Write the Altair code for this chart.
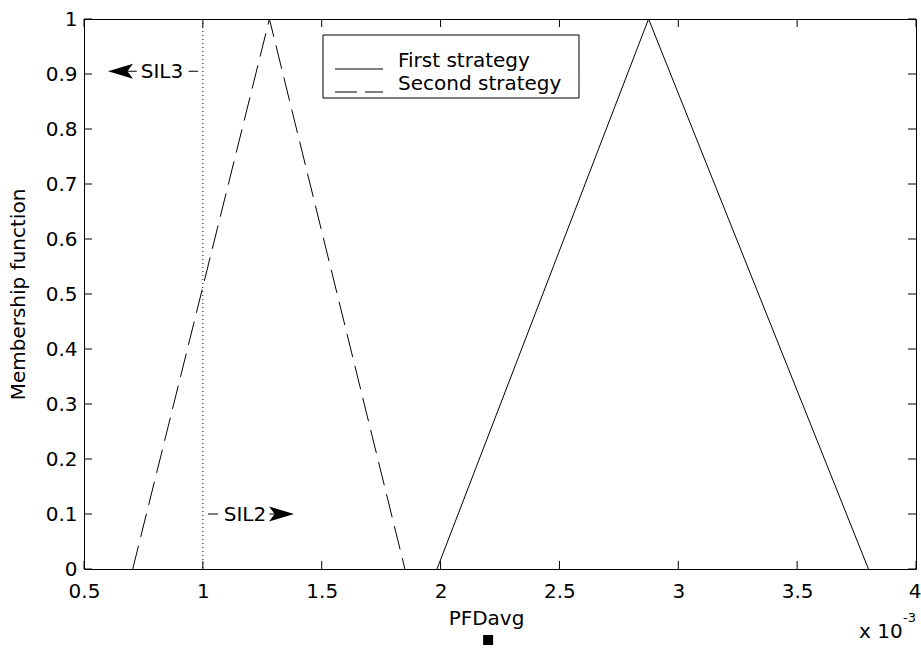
import altair as alt
import pandas as pd

# Triangular membership functions (PFDavg in units of 1e-3)
first_x = [1.985, 2.875, 3.80]
first_y = [0.0, 1.0, 0.0]
second_x = [0.705, 1.28, 1.85]
second_y = [0.0, 1.0, 0.0]

# SIL2/SIL3 boundary
sil_boundary = [1.0]

# Axis ticks
x_ticks = [0.5, 1.0, 1.5, 2.0, 2.5, 3.0, 3.5, 4.0]
y_ticks = [0.0, 0.1, 0.2, 0.3, 0.4, 0.5, 0.6, 0.7, 0.8, 0.9, 1.0]

# Annotations
sil_labels = ["SIL3", "SIL2"]
sil_label_x = [0.828, 1.177]
sil_label_y = [0.905, 0.1]
sil_dash_x = [0.94, 1.0217]
sil_dash_x2 = [0.98, 1.0637]
sil_stem_x = [0.66, 1.28]
sil_stem_x2 = [0.722, 1.33]
sil_arrow_x = [0.6536, 1.331]

pfd_marker_x = [2.2]

W, H = 832, 550
FONT = "DejaVu Sans"
FS = 20

xs = alt.Scale(domain=[0.5, 4], nice=False, zero=False)
ys = alt.Scale(domain=[0, 1], nice=False, zero=False)

first_df = pd.DataFrame({"x": first_x, "y": first_y})
second_df = pd.DataFrame({"x": second_x, "y": second_y})

xaxis = alt.Axis(values=x_ticks, format="~g", tickSize=0, domain=False, grid=False,
                 labelFont=FONT, labelFontSize=FS, labelColor="black",
                 labelPadding=12,
                 labelAlign={"condition": {"test": "datum.value >= 4", "value": "right"},
                             "value": "center"},
                 labelOffset={"condition": {"test": "datum.value >= 4", "value": 5},
                              "value": 0},
                 title="PFDavg", titleFont=FONT,
                 titleFontSize=FS, titleFontWeight="normal", titleColor="black",
                 titlePadding=7, titleX=402, labelFlush=False)
yaxis = alt.Axis(values=y_ticks, format="~g", tickSize=0, domain=False, grid=False,
                 labelFont=FONT, labelFontSize=FS, labelColor="black",
                 labelPadding=7, title="Membership function", titleFont=FONT,
                 titleFontSize=FS, titleFontWeight="normal", titleColor="black",
                 titlePadding=17, labelFlush=False)

first_line = alt.Chart(first_df).mark_line(color="black", strokeWidth=1).encode(
    x=alt.X("x:Q", scale=xs, axis=xaxis),
    y=alt.Y("y:Q", scale=ys, axis=yaxis),
)
second_line = alt.Chart(second_df).mark_line(
    color="black", strokeWidth=1, strokeDash=[24, 9]
).encode(x=alt.X("x:Q", scale=xs), y=alt.Y("y:Q", scale=ys))

boundary = alt.Chart(pd.DataFrame({"x": sil_boundary})).mark_rule(
    color="black", strokeWidth=1, strokeDash=[1, 3]
).encode(x=alt.X("x:Q", scale=xs))

# Inward ticks on all four sides
xt = pd.DataFrame({"x": x_ticks})
yt = pd.DataFrame({"y": y_ticks})
TL = 8
tick_style = dict(color="black", strokeWidth=1)
ticks = [
    alt.Chart(xt).mark_rule(**tick_style).encode(
        x=alt.X("x:Q", scale=xs), y=alt.value(H), y2=alt.value(H - TL)),
    alt.Chart(xt).mark_rule(**tick_style).encode(
        x=alt.X("x:Q", scale=xs), y=alt.value(0), y2=alt.value(TL)),
    alt.Chart(yt).mark_rule(**tick_style).encode(
        y=alt.Y("y:Q", scale=ys), x=alt.value(0), x2=alt.value(TL)),
    alt.Chart(yt).mark_rule(**tick_style).encode(
        y=alt.Y("y:Q", scale=ys), x=alt.value(W), x2=alt.value(W - TL)),
]

ann = pd.DataFrame({
    "label": sil_labels, "lx": sil_label_x, "y": sil_label_y,
    "dx": sil_dash_x, "dx2": sil_dash_x2,
    "sx": sil_stem_x, "sx2": sil_stem_x2,
    "ax": sil_arrow_x,
    "shape": ["M -1 0 L 1 -0.6 L 0.55 0 L 1 0.6 Z",
              "M 1 0 L -1 -0.6 L -0.55 0 L -1 0.6 Z"],
})
ann_text = alt.Chart(ann).mark_text(font=FONT, fontSize=FS, color="black",
                                    baseline="middle", dy=1).encode(
    x=alt.X("lx:Q", scale=xs), y=alt.Y("y:Q", scale=ys), text="label:N")
ann_dash = alt.Chart(ann).mark_rule(color="black", strokeWidth=1).encode(
    x=alt.X("dx:Q", scale=xs), x2="dx2:Q", y=alt.Y("y:Q", scale=ys))
ann_stem = alt.Chart(ann).mark_rule(color="black", strokeWidth=1).encode(
    x=alt.X("sx:Q", scale=xs), x2="sx2:Q", y=alt.Y("y:Q", scale=ys))
ann_arrow = alt.Chart(ann).mark_point(filled=True, color="black", opacity=1,
                                      size=625, strokeWidth=0).encode(
    x=alt.X("ax:Q", scale=xs), y=alt.Y("y:Q", scale=ys),
    shape=alt.Shape("shape:N", scale=None))

# Legend box
one = pd.DataFrame({"k": [0]})
leg_box = alt.Chart(one).mark_rect(fill="white", stroke="black", strokeWidth=1).encode(
    x=alt.value(239), x2=alt.value(495), y=alt.value(16), y2=alt.value(79))
leg_first = alt.Chart(one).mark_rule(color="black", strokeWidth=1).encode(
    x=alt.value(251), x2=alt.value(299), y=alt.value(50))
leg_second = alt.Chart(one).mark_rule(color="black", strokeWidth=1,
                                      strokeDash=[22, 8]).encode(
    x=alt.value(251), x2=alt.value(299), y=alt.value(73))
leg_text = alt.Chart(pd.DataFrame({"t": ["First strategy", "Second strategy"],
                                   "py": [48, 71]})).mark_text(
    font=FONT, fontSize=FS, color="black", align="left", baseline="alphabetic"
).encode(x=alt.value(314), y=alt.Y("py:Q", scale=None), text="t:N")

# Marker under the axis and the axis multiplier
marker = alt.Chart(pd.DataFrame({"x": pfd_marker_x})).mark_point(
    shape="square", filled=True, color="black", opacity=1, size=100
).encode(x=alt.X("x:Q", scale=xs), y=alt.value(621))
mult = alt.Chart(one).mark_text(font=FONT, fontSize=FS, color="black",
                                align="left", baseline="alphabetic").encode(
    x=alt.value(775), y=alt.value(619), text=alt.value("x 10"))
mult_exp = alt.Chart(one).mark_text(font=FONT, fontSize=13, color="black",
                                    align="left", baseline="alphabetic").encode(
    x=alt.value(819), y=alt.value(603), text=alt.value("-3"))

chart = alt.layer(
    first_line, second_line, boundary, *ticks,
    ann_dash, ann_stem, ann_text, ann_arrow,
    leg_box, leg_first, leg_second, leg_text,
    marker, mult, mult_exp,
).properties(
    width=W, height=H,
    autosize=alt.AutoSizeParams(type="none"),
    padding={"left": 84, "top": 19, "right": 5, "bottom": 79},
    background="white",
).configure_view(stroke="black", strokeWidth=1)

chart.save("out.html", embed_options={"renderer": "svg", "actions": False})
